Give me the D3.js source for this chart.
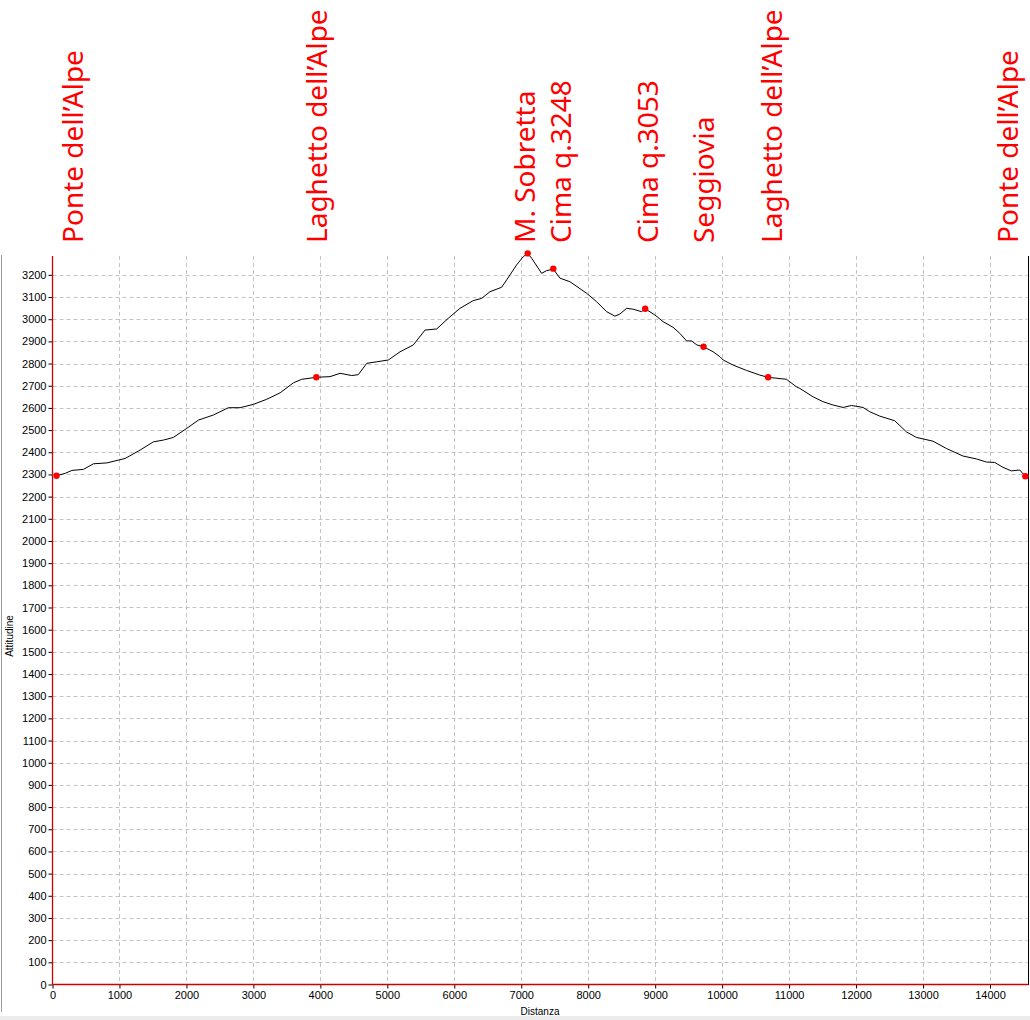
<!DOCTYPE html>
<html>
<head>
<meta charset="utf-8">
<script src="https://cdn.jsdelivr.net/npm/d3@7"></script>
<style>
  html, body { margin: 0; padding: 0; background: #ffffff; }
  svg { display: block; }
</style>
</head>
<body>
<svg id="chart" width="1030" height="1020"></svg>
<script>
// ---- data ----
const distance = [60, 190, 290, 463, 612, 812, 1085, 1309, 1507, 1657, 1806, 2006, 2179, 2403, 2627, 2801, 3000, 3200, 3399, 3597, 3722, 3940, 4145, 4294, 4469, 4567, 4693, 4842, 5015, 5190, 5388, 5563, 5737, 5910, 6085, 6284, 6409, 6533, 6707, 6782, 6931, 7030, 7096, 7155, 7304, 7379, 7478, 7578, 7727, 7976, 8125, 8275, 8399, 8473, 8573, 8672, 8797, 8851, 8996, 9119, 9269, 9369, 9469, 9543, 9622, 9722, 9866, 9966, 10015, 10164, 10364, 10563, 10687, 10961, 11110, 11160, 11358, 11507, 11657, 11806, 11931, 12104, 12204, 12354, 12578, 12752, 12901, 13149, 13349, 13597, 13797, 13946, 14070, 14194, 14319, 14443, 14528];
const altitude = [2294, 2305, 2318, 2323, 2348, 2352, 2372, 2410, 2447, 2455, 2467, 2508, 2545, 2568, 2601, 2601, 2616, 2639, 2668, 2713, 2729, 2738, 2741, 2756, 2746, 2750, 2801, 2808, 2816, 2853, 2884, 2951, 2956, 3004, 3049, 3084, 3094, 3124, 3144, 3177, 3245, 3282, 3297, 3275, 3207, 3219, 3226, 3185, 3169, 3117, 3079, 3034, 3014, 3023, 3049, 3045, 3034, 3047, 3019, 2989, 2963, 2936, 2902, 2902, 2884, 2876, 2853, 2831, 2816, 2793, 2769, 2748, 2738, 2729, 2695, 2688, 2650, 2628, 2613, 2602, 2611, 2602, 2583, 2563, 2542, 2492, 2467, 2450, 2417, 2383, 2370, 2356, 2354, 2332, 2316, 2320, 2292];

const waypointNames = ["Ponte dell\u2019Alpe", "Laghetto dell\u2019Alpe", "M. Sobretta", "Cima q.3248", "Cima q.3053", "Seggiovia", "Laghetto dell\u2019Alpe", "Ponte dell\u2019Alpe"];
const waypointDist = [60, 3940, 7096, 7478, 8851, 9722, 10687, 14528];
const waypointAlt = [2294, 2738, 3297, 3228, 3047, 2876, 2738, 2292];
const labelDist = [458, 4100, 7204, 7743, 9040, 9876, 10891, 14413];

const xTicks = [0, 1000, 2000, 3000, 4000, 5000, 6000, 7000, 8000, 9000, 10000, 11000, 12000, 13000, 14000];
const yTicks = [0, 100, 200, 300, 400, 500, 600, 700, 800, 900, 1000, 1100, 1200, 1300, 1400, 1500, 1600, 1700, 1800, 1900, 2000, 2100, 2200, 2300, 2400, 2500, 2600, 2700, 2800, 2900, 3000, 3100, 3200];
const xTitle = "Distanza";
const yTitle = "Attitudine";

// ---- layout ----
const pL = 52.5, pR = 1027.5, pT = 256, pB = 984.5;
const x = d3.scaleLinear().domain([0, 14560]).range([pL, pR]);
const y = d3.scaleLinear().domain([0, 3285]).range([pB, pT]);

const svg = d3.select("#chart");

// frame pieces
svg.append("rect").attr("x", 0).attr("y", 1016).attr("width", 1030).attr("height", 4).attr("fill", "#ececec");
svg.append("line").attr("x1", 1.5).attr("x2", 1.5).attr("y1", 255).attr("y2", 1012)
  .attr("stroke", "#9a9a9a").attr("stroke-width", 1);
svg.append("line").attr("x1", 1028.5).attr("x2", 1028.5).attr("y1", pT).attr("y2", 985)
  .attr("stroke", "#000").attr("stroke-width", 1);

// grid
const grid = svg.append("g").attr("stroke", "#c4c4c4").attr("stroke-width", 1).attr("stroke-dasharray", "4,3");
grid.selectAll("line.h").data(yTicks.filter(d => d > 0)).join("line")
  .attr("x1", pL).attr("x2", pR)
  .attr("y1", d => Math.round(y(d)) + 0.5).attr("y2", d => Math.round(y(d)) + 0.5);
grid.selectAll("line.v").data(xTicks.filter(d => d > 0)).join("line")
  .attr("y1", pT).attr("y2", pB)
  .attr("x1", d => Math.round(x(d)) + 0.5).attr("x2", d => Math.round(x(d)) + 0.5);

// axes
const yAxis = d3.axisLeft(y).tickValues(yTicks).tickSize(4).tickPadding(2).tickFormat(d3.format("d"));
const gy = svg.append("g").attr("transform", `translate(${pL},0)`).call(yAxis);
const xAxis = d3.axisBottom(x).tickValues(xTicks).tickSize(4).tickPadding(3).tickFormat(d3.format("d"));
const gx = svg.append("g").attr("transform", `translate(0,${pB})`).call(xAxis);
[gy, gx].forEach(g => {
  g.select(".domain").remove();
  g.selectAll(".tick line").attr("stroke", "#000");
  g.selectAll(".tick text").attr("fill", "#000")
    .style("font-family", "'Liberation Sans', Arial, sans-serif").style("font-size", "11px");
});
svg.append("line").attr("x1", pL).attr("x2", pL).attr("y1", pT).attr("y2", pB)
  .attr("stroke", "#d00000").attr("stroke-width", 1.3);
svg.append("line").attr("x1", pL).attr("x2", pR + 1).attr("y1", pB).attr("y2", pB)
  .attr("stroke", "#d00000").attr("stroke-width", 1.3);

// axis titles
svg.append("text").attr("x", (pL + pR) / 2).attr("y", 1015).attr("text-anchor", "middle")
  .style("font-family", "'Liberation Sans', Arial, sans-serif").style("font-size", "10px").text(xTitle);
svg.append("text").attr("transform", "translate(13,636) rotate(-90)").attr("text-anchor", "middle")
  .style("font-family", "'Liberation Sans', Arial, sans-serif").style("font-size", "10px").text(yTitle);

// profile
const line = d3.line().x((d, i) => x(distance[i])).y((d, i) => y(altitude[i]));
svg.append("path").datum(altitude).attr("d", line)
  .attr("fill", "none").attr("stroke", "#000").attr("stroke-width", 1);

// waypoints
svg.selectAll("circle.wp").data(waypointDist).join("circle")
  .attr("cx", (d) => x(d)).attr("cy", (d, i) => y(waypointAlt[i])).attr("r", 3.2)
  .attr("fill", "#ff0000");

// waypoint labels
svg.selectAll("text.wl").data(waypointNames).join("text")
  .attr("transform", (d, i) => `translate(${x(labelDist[i])},243) rotate(-90)`)
  .attr("text-anchor", "start").attr("fill", "#ff0000")
  .style("font-family", "'Noto Sans', sans-serif").style("font-size", "28px")
  .text(d => d);
</script>
</body>
</html>
